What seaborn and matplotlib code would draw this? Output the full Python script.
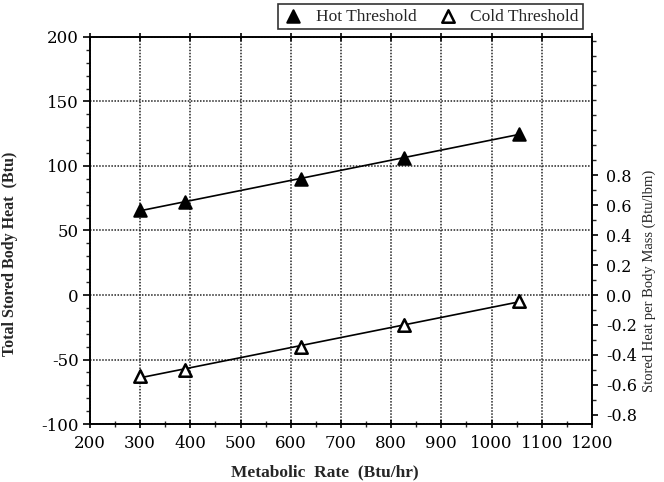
import matplotlib
matplotlib.use("Agg")
import matplotlib.pyplot as plt
import seaborn as sns
import pandas as pd
from matplotlib.ticker import MultipleLocator

# metabolic rate (Btu/hr) and stored heat (Btu)
metabolic_rate = [300, 390, 620, 825, 1055]
hot_threshold = [66, 72, 90, 106, 125]
cold_threshold = [-63, -58, -40, -23, -5]
body_mass = 116  # lbm, sets the right hand scale

sns.set_style("white")
plt.rcParams['font.family'] = ['DejaVu Serif']
plt.rcParams['axes.unicode_minus'] = False

hot = pd.DataFrame({"rate": metabolic_rate, "heat": hot_threshold})
cold = pd.DataFrame({"rate": metabolic_rate, "heat": cold_threshold})

fig = plt.figure(figsize=(6.64, 4.82), dpi=100)
ax = fig.add_axes([0.1355, 0.1203, 0.756, 0.803])

# fitted lines
sns.regplot(x="rate", y="heat", data=hot, scatter=False, ci=None, truncate=True,
            color="black", line_kws={"linewidth": 1.2}, ax=ax)
sns.regplot(x="rate", y="heat", data=cold, scatter=False, ci=None, truncate=True,
            color="black", line_kws={"linewidth": 1.2}, ax=ax)

sns.scatterplot(x="rate", y="heat", data=hot, marker="^", s=80, color="black",
                edgecolor="black", linewidth=1.5, label="Hot Threshold", ax=ax, zorder=5)
sns.scatterplot(x="rate", y="heat", data=cold, marker="^", s=80, facecolor="white",
                edgecolor="black", linewidth=1.8, label="Cold Threshold", ax=ax, zorder=5)

ax.set_xlim(200, 1200)
ax.set_ylim(-100, 200)
ax.xaxis.set_major_locator(MultipleLocator(100))
ax.xaxis.set_minor_locator(MultipleLocator(50))
ax.yaxis.set_major_locator(MultipleLocator(50))
ax.yaxis.set_minor_locator(MultipleLocator(10))
ax.grid(True, which="major", color="#222222", linestyle=(0, (1, 1)), linewidth=1.1)

for s in ax.spines.values():
    s.set_color("black")
    s.set_linewidth(1.2)

ax.tick_params(axis="y", which="major", direction="out", length=5, width=1.2,
               labelsize=12, colors="black", left=True, pad=3)
ax.tick_params(axis="y", which="minor", direction="out", length=3, width=1, left=True)
ax.tick_params(axis="x", which="major", direction="inout", length=6, width=1.2,
               labelsize=12, colors="black", bottom=True, top=True, pad=5)
ax.tick_params(axis="x", which="minor", direction="inout", length=4, width=1,
               bottom=True, top=False)

ax.set_xlabel("Metabolic  Rate  (Btu/hr)", fontsize=12.5, fontweight="bold",
              family="Liberation Serif")
ax.xaxis.set_label_coords(0.468, -0.105)
ax.set_ylabel("Total Stored Body Heat  (Btu)", fontsize=11.5, fontweight="bold",
              family="Liberation Serif")
ax.yaxis.set_label_coords(-0.143, 0.44)

# right hand axis: stored heat per body mass
ax2 = ax.twinx()
ax2.set_ylim(-100 / body_mass, 200 / body_mass)
ax2.set_yticks([-0.8, -0.6, -0.4, -0.2, 0.0, 0.2, 0.4, 0.6, 0.8])
ax2.set_yticklabels(["-0.8", "-0.6", "-0.4", "-0.2", "0.0", "0.2", "0.4", "0.6", "0.8"])
ax2.yaxis.set_minor_locator(MultipleLocator(0.1))
ax2.tick_params(axis="y", which="major", direction="out", length=4, width=1.2,
                labelsize=11.5, colors="black", right=True, pad=6)
ax2.tick_params(axis="y", which="minor", direction="out", length=3, width=1, right=True)
ax2.set_ylabel("Stored Heat per Body Mass (Btu/lbm)", fontsize=10.5,
               family="Liberation Serif")
ax2.yaxis.set_label_coords(1.1, 0.37)
for s in ax2.spines.values():
    s.set_linewidth(1.2)
    s.set_color("black")

handles, labels = ax.get_legend_handles_labels()
ax.get_legend().remove()
leg = fig.legend(handles, labels, ncol=2, loc="lower right",
                 bbox_to_anchor=(0.891, 0.922), frameon=True, fancybox=False,
                 edgecolor="black", handletextpad=0.7, columnspacing=1.2,
                 handlelength=1.2, borderpad=0.25,
                 prop={"family": "Liberation Serif", "size": 12.5})
leg.get_frame().set_linewidth(1.2)

fig.savefig("out.png", dpi=100)
